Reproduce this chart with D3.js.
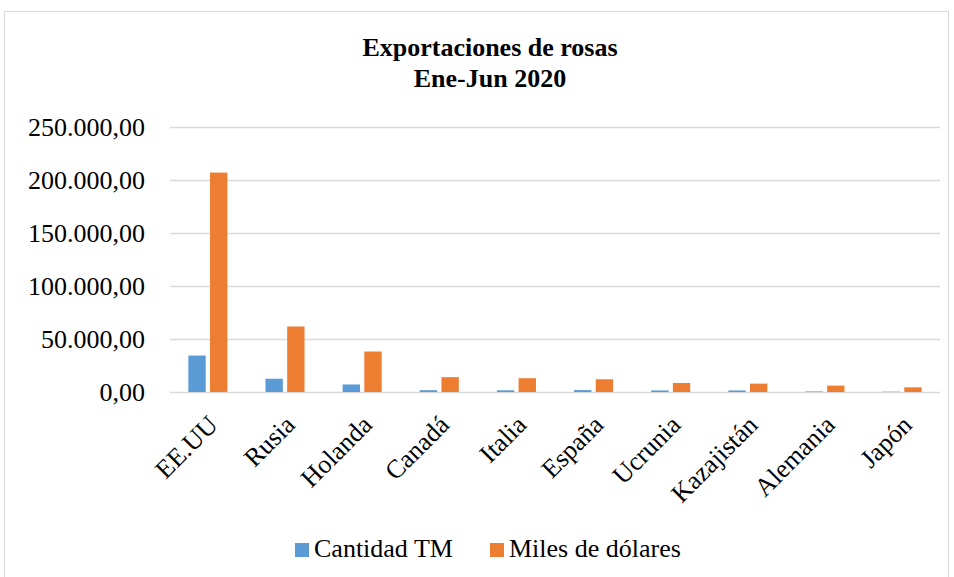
<!DOCTYPE html>
<html><head><meta charset="utf-8">
<script src="https://cdn.jsdelivr.net/npm/d3@7"></script>
<style>body{margin:0;background:#fff}svg{display:block}</style>
</head><body>
<script>
const categories = ["EE.UU","Rusia","Holanda","Canadá","Italia","España","Ucrunia","Kazajistán","Alemania","Japón"];
const cantidadTM = [34400,12500,7100,1700,1600,1800,1500,1500,500,300];
const milesDolares = [207000,61800,38200,14000,13000,12000,8500,7900,6000,4400];
const seriesNames = ["Cantidad TM","Miles de dólares"];
const yTicks = [0,50000,100000,150000,200000,250000];
const colors = ["#5b9bd5","#ed7d31"];

const W = 954, H = 577;
const FONT = "'Liberation Serif', 'Times New Roman', serif";
const svg = d3.select("body").append("svg").attr("width", W).attr("height", H);
svg.append("rect").attr("x",4.5).attr("y",11.5).attr("width",944).attr("height",570)
  .attr("fill","#fff").attr("stroke","#d9d9d9").attr("stroke-width",1);

const m = {left:170, right:940, top:127, bottom:392};
const x = d3.scaleBand().domain(categories).range([m.left, m.right]).paddingInner(0.494).paddingOuter(0.238);
const xs = d3.scaleBand().domain(seriesNames).range([0, x.bandwidth()]).paddingInner(0.2);
const y = d3.scaleLinear().domain([0,250000]).range([m.bottom, m.top]);

const fmt = v => d3.format(",.2f")(v).replace(/,/g,"#").replace(/\./g,",").replace(/#/g,".");

// grid
const yAxis = d3.axisLeft(y).tickValues(yTicks).tickSize(-(m.right-m.left)).tickFormat(fmt).tickPadding(25);
const gy = svg.append("g").attr("transform",`translate(${m.left},0)`).call(yAxis);
gy.select(".domain").remove();
gy.selectAll(".tick line").attr("stroke","#d9d9d9").attr("stroke-width",1.5);
gy.selectAll(".tick text").attr("font-family",FONT).attr("font-size",26).attr("fill","#000");

// bars
const data = [cantidadTM, milesDolares];
data.forEach((vals, si) => {
  svg.append("g").selectAll("rect").data(vals).join("rect")
    .attr("x", (d,i) => x(categories[i]) + xs(seriesNames[si]))
    .attr("width", xs.bandwidth())
    .attr("y", d => y(d))
    .attr("height", d => y(0) - y(d))
    .attr("fill", colors[si]);
});

// x labels
const xAxis = d3.axisBottom(x).tickSize(0).tickPadding(0);
const gx = svg.append("g").attr("transform",`translate(0,${m.bottom})`).call(xAxis);
gx.select(".domain").remove();
gx.selectAll(".tick text")
  .attr("font-family",FONT).attr("font-size",26).attr("fill","#000")
  .attr("text-anchor","end").attr("dy","0.35em")
  .attr("transform","translate(5,28) rotate(-45)");

// title
const t = svg.append("text").attr("x",490).attr("text-anchor","middle")
  .attr("font-family",FONT).attr("font-weight","bold").attr("font-size",26).attr("fill","#000");
t.append("tspan").attr("x",490).attr("y",56).text("Exportaciones de rosas");
t.append("tspan").attr("x",490).attr("y",87).text("Ene-Jun 2020");

// legend
const legX = [295, 490];
seriesNames.forEach((n,i) => {
  svg.append("rect").attr("x",legX[i]).attr("y",543).attr("width",14).attr("height",14).attr("fill",colors[i]);
  svg.append("text").attr("x",legX[i]+19).attr("y",557)
    .attr("font-family",FONT).attr("font-size",26).attr("fill","#000").text(n);
});
</script>
</body></html>
